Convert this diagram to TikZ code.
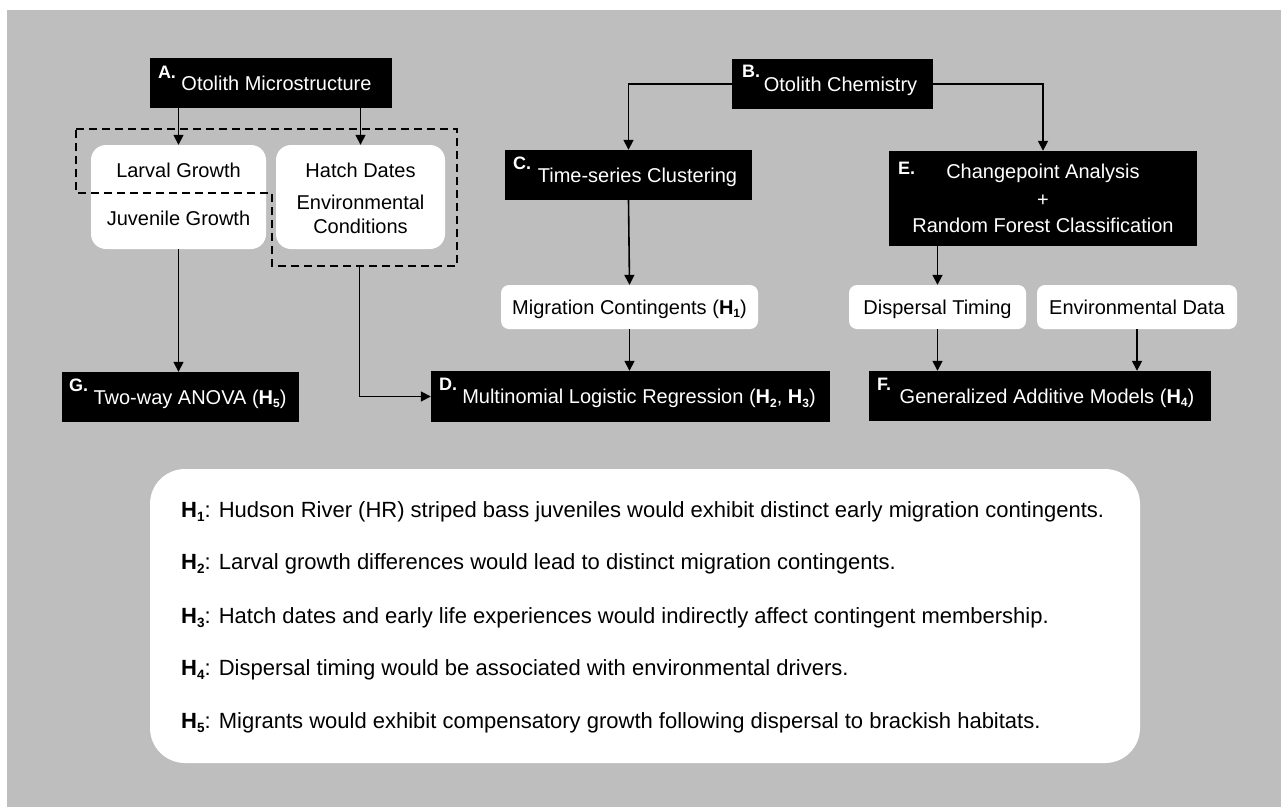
\documentclass[tikz,border=0pt]{standalone}
\usepackage{fontspec}
\setmainfont{Liberation Sans}
\usetikzlibrary{arrows.meta}
\newcommand{\Hsub}[1]{\textbf{H}\raisebox{-3.5pt}{\fontsize{12}{12}\selectfont\bfseries #1}}
\newcommand{\Hbig}[1]{\textbf{H}\raisebox{-4pt}{\fontsize{13.5}{13.5}\selectfont\bfseries #1}}
\begin{document}
\begin{tikzpicture}[x=1pt,y=-1pt,
  blk/.style={fill=black,text=white,inner sep=0pt,font=\fontsize{20}{24}\selectfont,text height=14pt,text depth=0pt},
  wht/.style={fill=white,rounded corners=8pt,inner sep=0pt,font=\fontsize{20}{24}\selectfont,text height=14pt,text depth=0pt},
  lab/.style={text=white,font=\fontsize{18}{18}\selectfont\bfseries,inner sep=0pt,anchor=north west},
  txt/.style={font=\fontsize{20}{24}\selectfont,inner sep=0pt,text height=14pt,text depth=0pt},
  hyp/.style={font=\fontsize{22}{26}\selectfont,inner sep=0pt,anchor=base west},
  arr/.style={line width=1.6pt,-{Triangle[length=10pt,width=10pt]}},
  dsh/.style={line width=1.6pt,dash pattern=on 8pt off 5pt}
]
\useasboundingbox (0,0) rectangle (1281,807);
\fill[fill={rgb,255:red,190;green,190;blue,190}] (7,10) rectangle (1281,807);

% black boxes
\node[blk,minimum width=242pt,minimum height=50pt] (A) at (271,83) {\hspace*{11pt}Otolith Microstructure};
\node[blk,minimum width=201pt,minimum height=50pt] (B) at (832.5,84) {\hspace*{16pt}Otolith Chemistry};
\node[blk,minimum width=247pt,minimum height=50pt] (C) at (628.5,175) {\hspace*{18pt}Time-series Clustering};
\node[blk,minimum width=308pt,minimum height=95pt] (E) at (1043,198.5) {};
\node[blk,minimum width=237pt,minimum height=50pt] (G) at (180.5,397) {\hspace*{19pt}Two-way ANOVA (\Hsub{5})};
\node[blk,minimum width=399pt,minimum height=51pt] (D) at (630.5,396.5) {\hspace*{17pt}Multinomial Logistic Regression (\Hsub{2}, \Hsub{3})};
\node[blk,minimum width=342pt,minimum height=50pt] (F) at (1040,396) {\hspace*{14pt}Generalized Additive Models (\Hsub{4})};

\node[lab] (Al) at ([xshift=8pt,yshift=-8pt]A.north west) {A.};
\node[lab] (Bl) at ([xshift=10pt,yshift=-6pt]B.north west) {B.};
\node[lab] (Cl) at ([xshift=8pt,yshift=-7pt]C.north west) {C.};
\node[lab] (El) at ([xshift=9pt,yshift=-11pt]E.north west) {E.};
\node[lab] (Gl) at ([xshift=7pt,yshift=-7pt]G.north west) {G.};
\node[lab] (Dl) at ([xshift=8pt,yshift=-7pt]D.north west) {D.};
\node[lab] (Fl) at ([xshift=8pt,yshift=-7pt]F.north west) {F.};

\node[txt,text=white] (E1) at (1043,171.5) {Changepoint Analysis};
\node[txt,text=white] (E2) at (1043,199) {+};
\node[txt,text=white] (E3) at (1043,225) {Random Forest Classification};

% white boxes
\node[wht,rounded corners=15pt,minimum width=175pt,minimum height=104pt] (LJ) at (178.5,197) {};
\node[wht,rounded corners=15pt,minimum width=169pt,minimum height=104pt] (HE) at (360.5,197) {};
\node[txt] (LJ1) at (178.5,170) {Larval Growth};
\node[txt] (LJ2) at (178.5,218.5) {Juvenile Growth};
\node[txt] (HE1) at (360.5,170) {Hatch Dates};
\node[txt] (HE2) at (360.5,202.5) {Environmental};
\node[txt] (HE3) at (360.5,226.5) {Conditions};

\node[wht,minimum width=257pt,minimum height=44pt] (MC) at (629.5,307) {Migration Contingents (\Hsub{1})};
\node[wht,minimum width=177pt,minimum height=44pt] (DT) at (937.5,307) {Dispersal Timing};
\node[wht,minimum width=200pt,minimum height=44pt] (ED) at (1137,307) {Environmental Data};

% dashed grouping
\draw[dsh] (76,129) -- (457,129) -- (457,266) -- (272,266) -- (272,193) -- (76,193) -- cycle;
\coordinate (dashbot) at (359.5,266);

% connectors
\draw[arr] (LJ.north |- A.south) -- (LJ.north);
\draw[arr] (HE.north |- A.south) -- (HE.north);
\draw[arr] (B.west) -| (C.north);
\draw[arr] (B.east) -| (E.north);
\draw[arr] (C.south) -- (MC.north);
\draw[arr] (MC.south) -- (MC.south |- D.north);
\draw[arr] (DT.north |- E.south) -- (DT.north);
\draw[arr] (DT.south) -- (DT.south |- F.north);
\draw[arr] (ED.south) -- (ED.south |- F.north);
\draw[arr] (LJ.south) -- (LJ.south |- G.north);
\draw[arr] (dashbot) |- (D.west);

% hypotheses
\node[fill=white,rounded corners=35pt,minimum width=990pt,minimum height=294pt,inner sep=0pt] (HY) at (645,616) {};
\node[hyp] (H1) at (181,517) {\Hbig{1}: Hudson River (HR) striped bass juveniles would exhibit distinct early migration contingents.};
\node[hyp] (H2) at (181,569.5) {\Hbig{2}: Larval growth differences would lead to distinct migration contingents.};
\node[hyp] (H3) at (181,623) {\Hbig{3}: Hatch dates and early life experiences would indirectly affect contingent membership.};
\node[hyp] (H4) at (181,675.5) {\Hbig{4}: Dispersal timing would be associated with environmental drivers.};
\node[hyp] (H5) at (181,728) {\Hbig{5}: Migrants would exhibit compensatory growth following dispersal to brackish habitats.};
\end{tikzpicture}
\end{document}
